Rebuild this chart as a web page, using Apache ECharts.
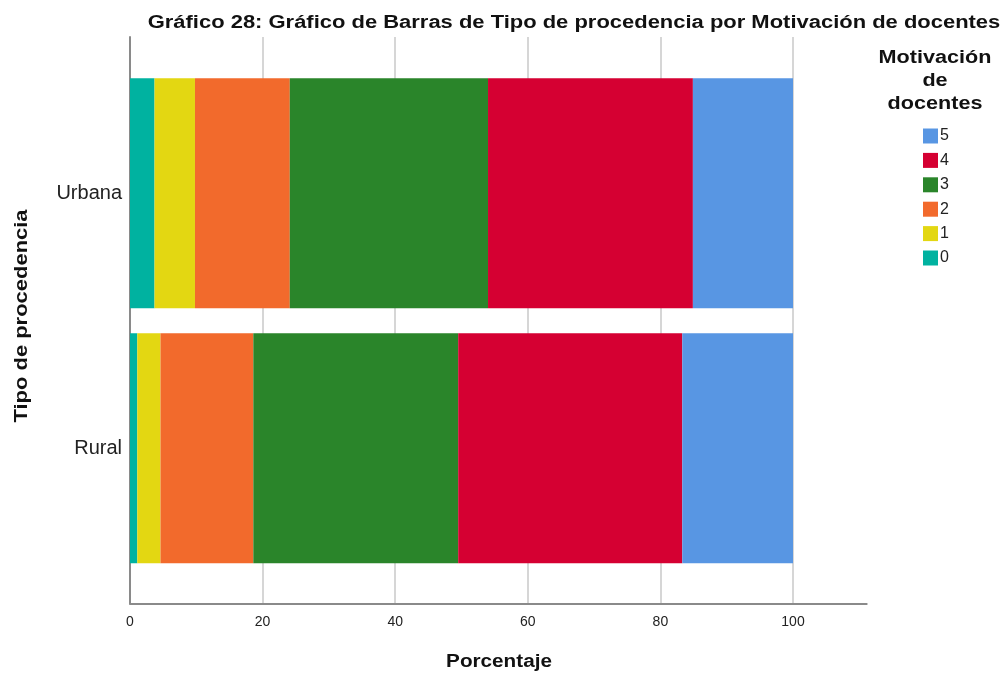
<!DOCTYPE html>
<html>
<head>
<meta charset="utf-8">
<script src="https://cdn.jsdelivr.net/npm/echarts@6/dist/echarts.min.js"></script>
<style>
  html, body { margin: 0; padding: 0; background: #fff; }
  #chart { width: 1002px; height: 673px; }
</style>
</head>
<body>
<div id="chart"></div>
<script>
// categories (bottom -> top) and percentage per motivation level
const categories = ['Rural', 'Urbana'];
const motiv0 = [1.1, 3.7];
const motiv1 = [3.5, 6.1];
const motiv2 = [14.0, 14.3];
const motiv3 = [30.9, 29.9];
const motiv4 = [33.8, 30.9];
const motiv5 = [16.7, 15.1];
const levels = ['0', '1', '2', '3', '4', '5'];
const xTicks = [0, 20, 40, 60, 80, 100];

const colors = {
  '0': '#00B2A0',
  '1': '#E3D712',
  '2': '#F26A2C',
  '3': '#2A852A',
  '4': '#D50032',
  '5': '#5896E3'
};
const values = { '0': motiv0, '1': motiv1, '2': motiv2, '3': motiv3, '4': motiv4, '5': motiv5 };
const font = '"Liberation Sans", Arial, sans-serif';

const chart = echarts.init(document.getElementById('chart'));

// bold texts in the original are a bit wider than Arial, hence scaleX
const boldText = (text, x, y, extra) => Object.assign({
  type: 'text', x: x, y: y, scaleX: 1.2,
  style: {
    text: text, align: 'center', verticalAlign: 'middle',
    fontSize: 18, fontWeight: 'bold', fill: '#111', fontFamily: font
  }
}, extra || {});

const option = {
  animation: false,
  textStyle: { fontFamily: font },
  grid: [
    // frame: split lines, x labels, left axis line
    { left: 130, width: 663, top: 37, bottom: 69.5 },
    // bottom axis line reaching past 100
    { left: 130, right: 135.3, top: 37, bottom: 69.5 },
    // bars
    { left: 130, width: 663, top: 65.8, height: 510 }
  ],
  xAxis: [
    {
      gridIndex: 0, type: 'value', min: 0, max: 100, interval: 20,
      axisLine: { show: false },
      axisTick: { show: false },
      splitLine: { show: true, lineStyle: { color: '#d6d6d6', width: 2 } },
      axisLabel: {
        color: '#222', fontSize: 14, margin: 12,
        formatter: v => xTicks.includes(v) ? String(v) : ''
      }
    },
    {
      gridIndex: 1, type: 'value', min: 0, max: 1,
      axisLine: { show: true, lineStyle: { color: '#8a8a8a', width: 2 } },
      axisTick: { show: false }, axisLabel: { show: false }, splitLine: { show: false }
    },
    { gridIndex: 2, type: 'value', min: 0, max: 100, show: false }
  ],
  yAxis: [
    {
      gridIndex: 0, type: 'value',
      axisLine: { show: true, lineStyle: { color: '#8a8a8a', width: 2 } },
      axisTick: { show: false }, axisLabel: { show: false }, splitLine: { show: false }
    },
    { gridIndex: 1, type: 'value', show: false },
    {
      gridIndex: 2, type: 'category', data: categories,
      axisLine: { show: false }, axisTick: { show: false },
      axisLabel: { color: '#222', fontSize: 20, margin: 8 }
    }
  ],
  legend: {
    orient: 'vertical',
    left: 918, top: 123,
    icon: 'rect',
    itemWidth: 15, itemHeight: 15, itemGap: 8.4,
    data: ['5', '4', '3', '2', '1', '0'],
    textStyle: { fontSize: 16, color: '#222', padding: [0, 0, 0, -3] }
  },
  graphic: [
    boldText('Gráfico 28: Gráfico de Barras de Tipo de procedencia por Motivación de docentes', 574, 23, { scaleX: 1.22 }),
    {
      type: 'text', x: 935, y: 47, scaleX: 1.2,
      style: {
        text: 'Motivación\nde\ndocentes', align: 'center', lineHeight: 23,
        fontSize: 18, fontWeight: 'bold', fill: '#111', fontFamily: font
      }
    },
    boldText('Tipo de procedencia', 22, 316, { rotation: Math.PI / 2, scaleX: 1.22 }),
    boldText('Porcentaje', 499, 662, { scaleX: 1.15 })
  ],
  series: levels.map(l => ({
    name: l,
    type: 'bar',
    stack: 'total',
    xAxisIndex: 2,
    yAxisIndex: 2,
    barWidth: 230,
    itemStyle: { color: colors[l] },
    data: values[l]
  }))
};

chart.setOption(option);
</script>
</body>
</html>
